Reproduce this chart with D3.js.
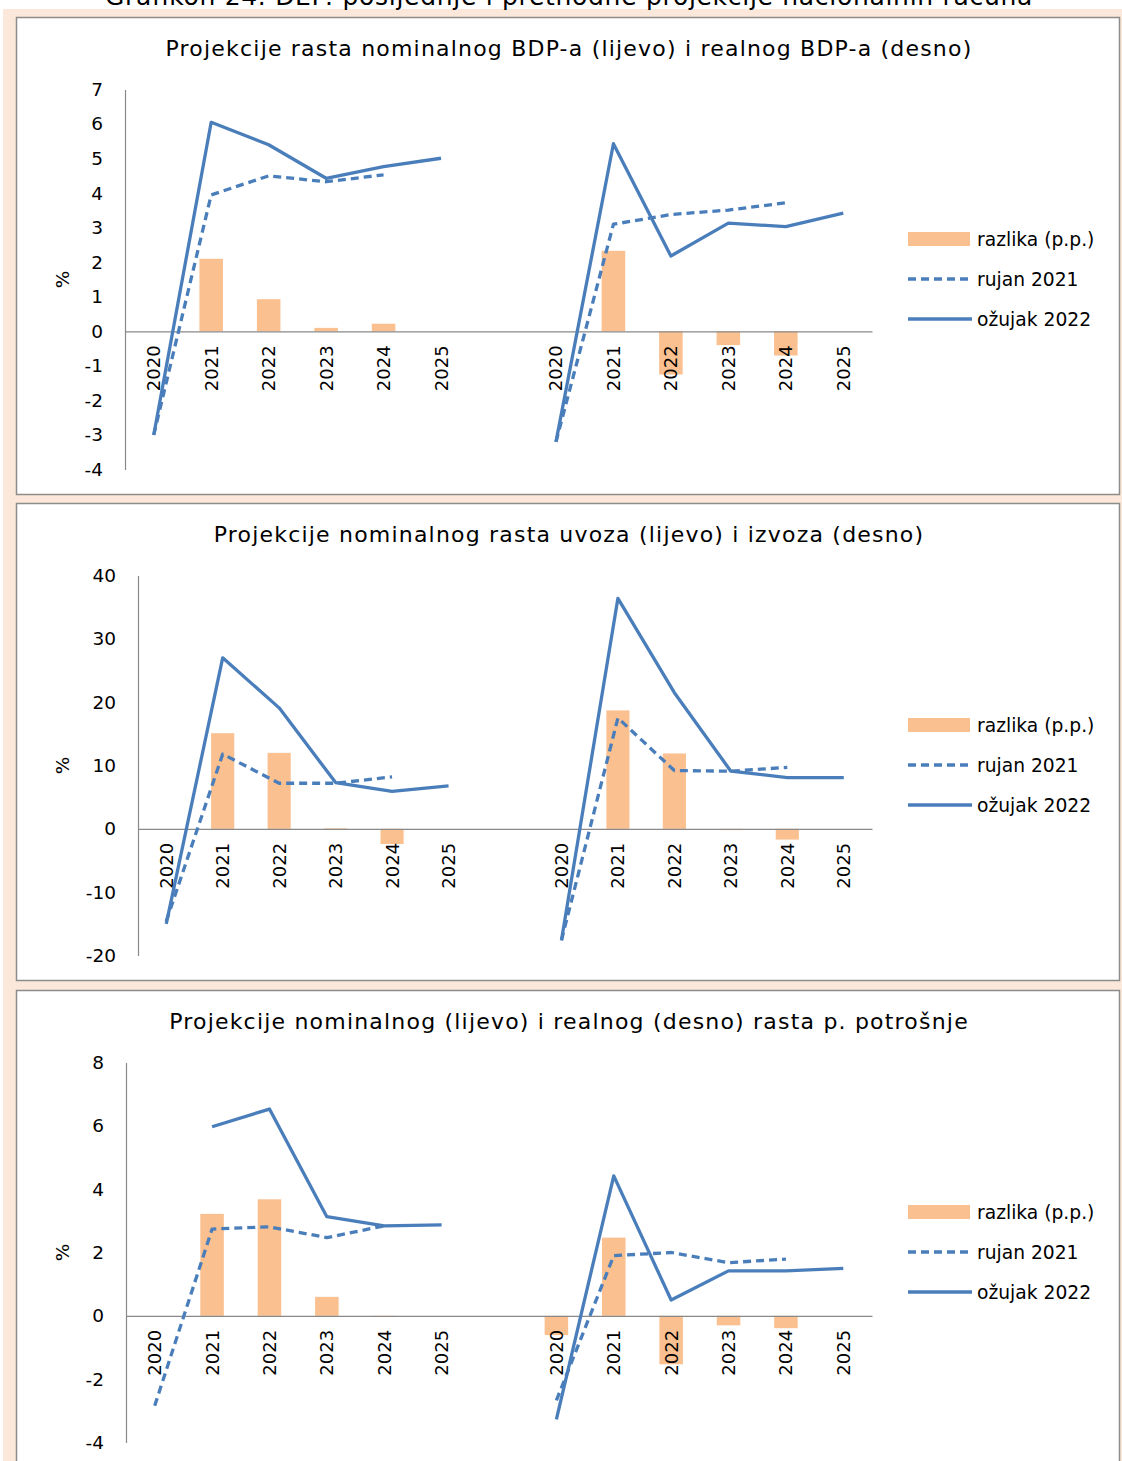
<!DOCTYPE html>
<html>
<head>
<meta charset="utf-8">
<script src="https://cdn.jsdelivr.net/npm/d3@7"></script>
<style>
    body { margin: 0; background: #fff; }
    svg { display: block; font-family: "DejaVu Sans", Verdana, sans-serif; }
    .axis text { fill: #000; }
</style>
</head>
<body>
<div id="chart"></div>
<script>
// years on each half of every panel
const years = ["2020", "2021", "2022", "2023", "2024", "2025"];

// BDP nominalni (lijevo) / realni (desno)
const gdpNomMar22 = [-3.0, 6.05, 5.4, 4.43, 4.77, 5.01];
const gdpNomSep21 = [-3.0, 3.95, 4.5, 4.33, 4.53, null];
const gdpNomDiff = [0, 2.1, 0.93, 0.1, 0.22, null];
const gdpRealMar22 = [-3.2, 5.43, 2.18, 3.13, 3.03, 3.42];
const gdpRealSep21 = [-3.2, 3.1, 3.38, 3.51, 3.72, null];
const gdpRealDiff = [0, 2.33, -1.25, -0.4, -0.7, null];

// uvoz (lijevo) / izvoz (desno)
const importMar22 = [-15.0, 27.0, 19.1, 7.3, 5.9, 6.8];
const importSep21 = [-14.6, 11.8, 7.2, 7.2, 8.2, null];
const importDiff = [0, 15.1, 12.0, 0.1, -2.4, null];
const exportMar22 = [-17.6, 36.4, 21.5, 9.1, 8.1, 8.1];
const exportSep21 = [-17.6, 17.5, 9.2, 9.1, 9.7, null];
const exportDiff = [0, 18.7, 11.9, -0.2, -1.7, null];

// osobna potrošnja nominalno (lijevo) / realno (desno)
const consNomMar22 = [null, 5.97, 6.53, 3.13, 2.84, 2.87];
const consNomSep21 = [-2.84, 2.74, 2.81, 2.47, 2.84, null];
const consNomDiff = [null, 3.22, 3.68, 0.6, -0.03, null];
const consRealMar22 = [-3.27, 4.42, 0.5, 1.42, 1.42, 1.5];
const consRealSep21 = [-2.67, 1.9, 2.0, 1.68, 1.79, null];
const consRealDiff = [-0.61, 2.47, -1.53, -0.3, -0.39, null];

const legendLabels = ["razlika (p.p.)", "rujan 2021", "ožujak 2022"];

const BLUE = "#4a7ebb";
const ORANGE = "#fac090";
const GREY = "#898989";

class PanelVis {
    constructor(svg, config) {
        this.svg = svg;
        this.config = config;
        this.initVis();
    }

    initVis() {
        const vis = this;
        const c = vis.config;

        vis.top = c.top;
        vis.plotTop = c.top + 72.5;
        vis.plotBottom = c.top + 452.5;
        vis.plotLeft = c.axisX;
        vis.plotRight = 872;

        vis.g = vis.svg.append("g").attr("class", "panel");

        vis.g.append("rect")
            .attr("x", 16.5)
            .attr("y", c.top + 0.5)
            .attr("width", 1103)
            .attr("height", 477)
            .attr("fill", "#fff")
            .attr("stroke", "#8c8c8c")
            .attr("stroke-width", 1.5);

        vis.g.append("text")
            .attr("x", 569)
            .attr("y", c.top + 39)
            .attr("text-anchor", "middle")
            .style("font-size", "22px")
            .style("letter-spacing", "1.2px")
            .text(c.title);

        // 6 years, an empty slot, 6 years
        vis.slots = years.map(y => "L" + y).concat(["gap"], years.map(y => "R" + y));

        vis.xScale = d3.scaleBand()
            .domain(vis.slots)
            .range([vis.plotLeft, vis.plotRight])
            .padding(0);

        vis.yScale = d3.scaleLinear()
            .domain(c.yDomain)
            .range([vis.plotBottom, vis.plotTop]);

        vis.wrangleData();
    }

    wrangleData() {
        const vis = this;
        const c = vis.config;

        const toRows = (side, values) => values.map((v, i) => ({ key: side + years[i], value: v }));

        vis.bars = toRows("L", c.left.diff).concat(toRows("R", c.right.diff))
            .filter(d => d.value !== null);
        vis.lines = [
            { dashed: true, rows: toRows("L", c.left.sep) },
            { dashed: true, rows: toRows("R", c.right.sep) },
            { dashed: false, rows: toRows("L", c.left.mar) },
            { dashed: false, rows: toRows("R", c.right.mar) }
        ];

        vis.updateVis();
    }

    updateVis() {
        const vis = this;
        const c = vis.config;
        const bw = vis.xScale.bandwidth();
        const y0 = vis.yScale(0);

        // bars
        const barW = bw * 0.41;
        vis.g.selectAll(".bar")
            .data(vis.bars)
            .enter()
            .append("rect")
            .attr("class", "bar")
            .attr("x", d => vis.xScale(d.key) + (bw - barW) / 2)
            .attr("y", d => vis.yScale(Math.max(0, d.value)))
            .attr("width", barW)
            .attr("height", d => Math.abs(vis.yScale(d.value) - y0))
            .attr("fill", ORANGE);

        // y axis
        const yAxis = d3.axisLeft(vis.yScale)
            .tickValues(c.yTicks)
            .tickFormat(d => String(d))
            .tickSizeInner(0)
            .tickSizeOuter(0)
            .tickPadding(22);

        const yAxisGroup = vis.g.append("g")
            .attr("class", "y-axis axis")
            .attr("transform", `translate(${vis.plotLeft}, 0)`)
            .call(yAxis);
        yAxisGroup.select(".domain").attr("stroke", GREY).attr("stroke-width", 1.2);
        yAxisGroup.selectAll("text")
            .style("font-size", "18.5px")
            .style("font-family", "DejaVu Sans, sans-serif");

        vis.g.append("text")
            .attr("transform", `translate(63, ${(vis.plotTop + vis.plotBottom) / 2}) rotate(-90)`)
            .attr("text-anchor", "middle")
            .attr("dy", "0.35em")
            .style("font-size", "18.5px")
            .text("%");

        // x axis on the zero line
        const xAxis = d3.axisBottom(vis.xScale)
            .tickSizeInner(0)
            .tickSizeOuter(0)
            .tickFormat(d => d === "gap" ? "" : d.slice(1));

        const xAxisGroup = vis.g.append("g")
            .attr("class", "x-axis axis")
            .attr("transform", `translate(0, ${y0})`)
            .call(xAxis);
        xAxisGroup.select(".domain").attr("stroke", GREY).attr("stroke-width", 1.2);
        xAxisGroup.selectAll("text")
            .attr("transform", "rotate(-90)")
            .attr("text-anchor", "end")
            .attr("x", -14)
            .attr("y", 0)
            .attr("dy", "0.36em")
            .style("font-size", "18px")
            .style("font-family", "DejaVu Sans, sans-serif");

        // lines
        const line = d3.line()
            .defined(d => d.value !== null)
            .x(d => vis.xScale(d.key) + bw / 2)
            .y(d => vis.yScale(d.value));

        vis.g.selectAll(".series")
            .data(vis.lines)
            .enter()
            .append("path")
            .attr("class", "series")
            .attr("d", d => line(d.rows))
            .attr("fill", "none")
            .attr("stroke", BLUE)
            .attr("stroke-width", 3.3)
            .attr("stroke-linejoin", "round")
            .attr("stroke-dasharray", d => d.dashed ? "8,5" : null);

        // legend
        const legend = vis.g.append("g")
            .attr("class", "legend")
            .attr("transform", `translate(908, ${c.top})`);

        legendLabels.forEach((label, i) => {
            const ly = 222 + i * 40;
            if (i === 0) {
                legend.append("rect")
                    .attr("x", 0).attr("y", ly - 7)
                    .attr("width", 62).attr("height", 14)
                    .attr("fill", ORANGE);
            } else {
                legend.append("line")
                    .attr("x1", 0).attr("x2", 64)
                    .attr("y1", ly).attr("y2", ly)
                    .attr("stroke", BLUE)
                    .attr("stroke-width", 3.3)
                    .attr("stroke-dasharray", i === 1 ? "8,5" : null);
            }
            legend.append("text")
                .attr("x", 69)
                .attr("y", ly)
                .attr("dy", "0.35em")
                .style("font-size", "18.7px")
                .text(label);
        });
    }
}

const svg = d3.select("#chart")
    .append("svg")
    .attr("width", 1122)
    .attr("height", 1461);

svg.append("rect")
    .attr("x", 3).attr("y", 9)
    .attr("width", 1119).attr("height", 1452)
    .attr("fill", "#fce8da");

svg.append("text")
    .attr("x", 569)
    .attr("y", 5)
    .attr("text-anchor", "middle")
    .style("font-size", "25px")
    .style("letter-spacing", "0.7px")
    .text("Grafikon 24. DEF: posljednje i prethodne projekcije nacionalnih računa");

const panels = [
    {
        top: 17,
        title: "Projekcije rasta nominalnog BDP-a (lijevo) i realnog BDP-a (desno)",
        yDomain: [-4, 7],
        yTicks: d3.range(-4, 8, 1),
        axisX: 125,
        left: { mar: gdpNomMar22, sep: gdpNomSep21, diff: gdpNomDiff },
        right: { mar: gdpRealMar22, sep: gdpRealSep21, diff: gdpRealDiff }
    },
    {
        top: 503,
        title: "Projekcije nominalnog rasta uvoza (lijevo) i izvoza (desno)",
        yDomain: [-20, 40],
        yTicks: d3.range(-20, 41, 10),
        axisX: 138,
        left: { mar: importMar22, sep: importSep21, diff: importDiff },
        right: { mar: exportMar22, sep: exportSep21, diff: exportDiff }
    },
    {
        top: 990,
        title: "Projekcije nominalnog (lijevo) i realnog (desno) rasta p. potrošnje",
        yDomain: [-4, 8],
        yTicks: d3.range(-4, 9, 2),
        axisX: 126,
        left: { mar: consNomMar22, sep: consNomSep21, diff: consNomDiff },
        right: { mar: consRealMar22, sep: consRealSep21, diff: consRealDiff }
    }
];

panels.forEach(p => new PanelVis(svg, p));
</script>
</body>
</html>
